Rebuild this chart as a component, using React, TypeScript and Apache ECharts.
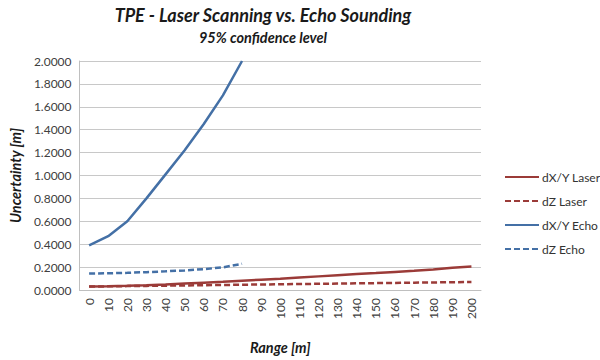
import React, { useEffect, useRef } from "react";
import * as echarts from "echarts";

const categories = ["0","10","20","30","40","50","60","70","80","90","100","110","120","130","140","150","160","170","180","190","200"];
const dxyLaser = [0.03,0.033,0.037,0.042,0.048,0.056,0.064,0.072,0.081,0.09,0.099,0.109,0.119,0.129,0.139,0.148,0.158,0.168,0.179,0.195,0.205];
const dzLaser = [0.03,0.032,0.034,0.036,0.038,0.04,0.042,0.044,0.046,0.048,0.05,0.052,0.054,0.056,0.058,0.06,0.062,0.064,0.066,0.068,0.07];
const dxyEcho = [0.39,0.47,0.6,0.8,1.01,1.22,1.45,1.7,2.0];
const dzEcho = [0.144,0.146,0.15,0.156,0.163,0.171,0.182,0.198,0.229];

const titleText = "TPE - Laser Scanning vs. Echo Sounding";
const subtitleText = "95% confidence level";

const RED = "#9b3b38";
const BLUE = "#4470a6";
const FONT = "Lato, 'Open Sans', sans-serif";

export default function App() {
  const ref = useRef<HTMLDivElement>(null);
  useEffect(() => {
    if (!ref.current) return;
    const chart = echarts.init(ref.current, null, { renderer: "svg" });
    chart.setOption({
      animation: false,
      backgroundColor: "#ffffff",
      textStyle: { fontFamily: FONT },
      title: [
        {
          text: titleText,
          left: 258,
          top: 1,
          textAlign: "center",
          textStyle: { fontSize: 18, fontWeight: "bold", fontStyle: "italic", color: "#1a1a1a", fontFamily: FONT },
        },
        {
          text: subtitleText,
          left: 258,
          top: 25,
          textAlign: "center",
          textStyle: { fontSize: 14.5, fontWeight: "bold", fontStyle: "italic", color: "#1a1a1a", fontFamily: FONT },
        },
      ],
      legend: {
        orient: "vertical",
        left: 499,
        top: 166,
        itemGap: 12,
        itemWidth: 34,
        itemHeight: 14,
        itemStyle: { opacity: 0 },
        textStyle: { fontSize: 12, color: "#333333", fontFamily: FONT, padding: [0, 0, 0, -2] },
        data: ["dX/Y Laser", "dZ Laser", "dX/Y Echo", "dZ Echo"],
      },
      grid: { left: 77, right: 119, top: 61, bottom: 63, containLabel: false },
      xAxis: {
        type: "category",
        data: categories,
        boundaryGap: true,
        name: "Range [m]",
        nameLocation: "middle",
        nameGap: 50,
        nameTextStyle: { fontSize: 14.5, fontWeight: "bold", fontStyle: "italic", color: "#1a1a1a", fontFamily: FONT },
        axisLine: { lineStyle: { color: "#bfbfbf" } },
        axisTick: { show: false },
        axisLabel: { rotate: 90, fontSize: 12, color: "#404040", margin: 8, interval: 0, fontFamily: FONT },
      },
      yAxis: {
        type: "value",
        min: 0,
        max: 2,
        interval: 0.2,
        name: "Uncertainty [m]",
        nameLocation: "middle",
        nameGap: 56,
        nameRotate: 90,
        nameTextStyle: { fontSize: 14.5, fontWeight: "bold", fontStyle: "italic", color: "#1a1a1a", fontFamily: FONT },
        axisLine: { show: true, lineStyle: { color: "#bfbfbf" } },
        axisTick: { show: false },
        splitLine: { lineStyle: { color: "#c8c8c8" } },
        axisLabel: { fontSize: 12, color: "#404040", formatter: (v: number) => v.toFixed(4), fontFamily: FONT },
      },
      series: [
        { name: "dX/Y Laser", type: "line", data: dxyLaser, symbol: "none", lineStyle: { color: RED, width: 2.5 }, itemStyle: { color: RED } },
        { name: "dZ Laser", type: "line", data: dzLaser, symbol: "none", lineStyle: { color: RED, width: 2.5, type: [6, 3] }, itemStyle: { color: RED } },
        { name: "dX/Y Echo", type: "line", data: dxyEcho, symbol: "none", lineStyle: { color: BLUE, width: 2.5 }, itemStyle: { color: BLUE } },
        { name: "dZ Echo", type: "line", data: dzEcho, symbol: "none", lineStyle: { color: BLUE, width: 2.5, type: [6, 3] }, itemStyle: { color: BLUE } },
      ],
    });
    return () => chart.dispose();
  }, []);
  return <div ref={ref} style={{ width: 600, height: 360, position: "absolute", left: 0, top: 0 }} />;
}
